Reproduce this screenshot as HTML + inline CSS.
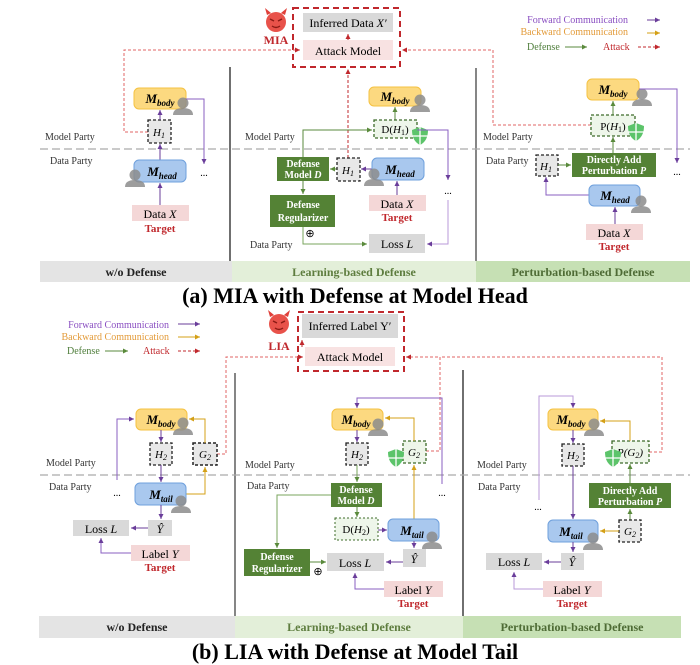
<!DOCTYPE html>
<html><head><meta charset="utf-8"><style>
html,body{margin:0;padding:0;background:#fff;}
svg{display:block;font-family:"Liberation Serif",serif;}
.b{font-weight:bold;font-style:italic;}
</style></head><body>
<svg width="700" height="665" viewBox="0 0 700 665" xmlns="http://www.w3.org/2000/svg">
<defs>
<marker id="mp" markerWidth="6" markerHeight="6" refX="5" refY="3" orient="auto"><path d="M0,0.5 L5,3 L0,5.5z" fill="#6a3d9a"/></marker>
<marker id="mo" markerWidth="6" markerHeight="6" refX="5" refY="3" orient="auto"><path d="M0,0.5 L5,3 L0,5.5z" fill="#d4a017"/></marker>
<marker id="mg" markerWidth="6" markerHeight="6" refX="5" refY="3" orient="auto"><path d="M0,0.5 L5,3 L0,5.5z" fill="#5a8a3c"/></marker>
<marker id="mr" markerWidth="6" markerHeight="6" refX="5" refY="3" orient="auto"><path d="M0,0.5 L5,3 L0,5.5z" fill="#c0282d"/></marker>
<g id="person"><circle cx="0" cy="-5" r="5.5" fill="#8c8c8c" opacity="0.85"/><path d="M-10,7 Q-10,0 0,0 Q10,0 10,7z" fill="#8c8c8c" opacity="0.85"/></g>
<g id="shield"><path d="M0,-9 L8,-6 Q8,5 0,9 Q-8,5 -8,-6z" fill="#5cc46a"/><path d="M0,-9 L0,9 M-8,0 L8,0" stroke="#fff" stroke-width="1.3"/></g>
<g id="devil"><path d="M-9,-7 L-11,-14 L-5,-9z M9,-7 L11,-14 L5,-9z" fill="#e0403a"/><circle r="10" fill="#e8524a"/><path d="M-6,-3 L-2,-1 M6,-3 L2,-1" stroke="#8b1a14" stroke-width="1.5"/><path d="M-4,4 Q0,7 4,4" stroke="#8b1a14" stroke-width="1.4" fill="none"/></g>
</defs>

<!-- ============ PART A ============ -->
<use href="#devil" x="276" y="22"/>
<text x="276" y="44" text-anchor="middle" font-size="12" font-weight="bold" fill="#c0282d">MIA</text>
<rect x="293" y="8" width="107" height="59" fill="none" stroke="#c0282d" stroke-width="2" stroke-dasharray="6,4"/>
<rect x="303" y="13" width="90" height="19" fill="#d9d9d9"/>
<text x="348" y="27" text-anchor="middle" font-size="12">Inferred Data <tspan font-style="italic">X′</tspan></text>
<rect x="303" y="40" width="90" height="20" fill="#f8e2e2"/>
<text x="348" y="55" text-anchor="middle" font-size="12">Attack Model</text>
<line x1="348" y1="40" x2="348" y2="34" stroke="#c0282d" marker-end="url(#mr)"/>

<g font-size="10">
<text x="628" y="23" text-anchor="end" fill="#8a4fc2">Forward Communication</text>
<line x1="647" y1="20" x2="660" y2="20" stroke="#6a3d9a" marker-end="url(#mp)"/>
<text x="628" y="35" text-anchor="end" fill="#e39b3a">Backward Communication</text>
<line x1="647" y1="33" x2="660" y2="33" stroke="#d4a017" marker-end="url(#mo)"/>
<text x="527" y="50" fill="#4e7d3a">Defense</text>
<line x1="565" y1="47" x2="587" y2="47" stroke="#5a8a3c" marker-end="url(#mg)"/>
<text x="603" y="50" fill="#c0282d">Attack</text>
<line x1="638" y1="47" x2="660" y2="47" stroke="#c0282d" stroke-dasharray="3,2" marker-end="url(#mr)"/>
</g>

<line x1="230" y1="67" x2="230" y2="261" stroke="#222" stroke-width="1.3"/>
<line x1="476" y1="68" x2="476" y2="261" stroke="#444" stroke-width="1.3"/>
<line x1="40" y1="149" x2="690" y2="149" stroke="#aaa" stroke-width="1.3" stroke-dasharray="8,4"/>

<g font-size="10" fill="#333">
<text x="45" y="140">Model Party</text><text x="50" y="164">Data Party</text>
<text x="245" y="140">Model Party</text><text x="250" y="248">Data Party</text>
<text x="483" y="140">Model Party</text><text x="486" y="164">Data Party</text>
</g>

<!-- A left -->
<polyline points="148,132 124,132 124,50 300,50" fill="none" stroke="#e06666" stroke-dasharray="3,2" marker-end="url(#mr)"/>
<rect x="134" y="88" width="52" height="21" rx="5" fill="#fcd980" stroke="#f5c242"/>
<text x="160" y="103" text-anchor="middle" font-size="13" class="b">M<tspan font-size="9" dy="3">body</tspan></text>
<use href="#person" x="183" y="108"/>
<rect x="148" y="120" width="23" height="23" fill="#e8e8e8" stroke="#222" stroke-dasharray="3,2" stroke-width="1.3"/>
<text x="159" y="136" text-anchor="middle" font-size="11" font-style="italic">H<tspan font-size="8" dy="2">1</tspan></text>
<line x1="160" y1="120" x2="160" y2="110" stroke="#6a3d9a" marker-end="url(#mp)"/>
<line x1="160" y1="160" x2="160" y2="144" stroke="#6a3d9a" marker-end="url(#mp)"/>
<polyline points="186,99 204,99 204,164" fill="none" stroke="#8a5fc2" marker-end="url(#mp)"/>
<text x="204" y="176" text-anchor="middle" font-size="10">...</text>
<rect x="134" y="160" width="52" height="22" rx="5" fill="#a9c8ee" stroke="#6fa0dc"/>
<text x="162" y="176" text-anchor="middle" font-size="13" class="b">M<tspan font-size="9" dy="3">head</tspan></text>
<use href="#person" x="135" y="180"/>
<line x1="160" y1="205" x2="160" y2="183" stroke="#6a3d9a" marker-end="url(#mp)"/>
<rect x="132" y="205" width="57" height="16" fill="#f4d7d7"/>
<text x="160" y="218" text-anchor="middle" font-size="12">Data <tspan font-style="italic">X</tspan></text>
<text x="160" y="232" text-anchor="middle" font-size="11" font-weight="bold" fill="#c0282d">Target</text>

<!-- A middle -->
<line x1="348" y1="158" x2="348" y2="69" stroke="#c0282d" stroke-dasharray="3,2" marker-end="url(#mr)"/>
<rect x="369" y="87" width="52" height="19" rx="5" fill="#fcd980" stroke="#f5c242"/>
<text x="395" y="101" text-anchor="middle" font-size="13" class="b">M<tspan font-size="9" dy="3">body</tspan></text>
<use href="#person" x="420" y="105"/>
<line x1="395" y1="120" x2="395" y2="107" stroke="#5a8a3c" marker-end="url(#mg)"/>
<rect x="374" y="120" width="43" height="18" fill="#eef6ea" stroke="#3d6b2a" stroke-dasharray="3,2" stroke-width="1.3"/>
<text x="395" y="133" text-anchor="middle" font-size="11">D(<tspan font-style="italic">H</tspan><tspan font-size="8" dy="2">1</tspan><tspan dy="-2">)</tspan></text>
<use href="#shield" x="420" y="136"/>
<polyline points="303,157 303,130 372,130" fill="none" stroke="#5a8a3c" marker-end="url(#mg)"/>
<polyline points="417,130 448,130 448,180" fill="none" stroke="#8a5fc2" marker-end="url(#mp)"/>
<text x="448" y="194" text-anchor="middle" font-size="10">...</text>
<polyline points="448,200 448,244 427,244" fill="none" stroke="#b99ad8" marker-end="url(#mp)"/>
<rect x="277" y="157" width="52" height="24" fill="#548235"/>
<text x="303" y="167" text-anchor="middle" font-size="10" font-weight="bold" fill="#fff">Defense</text>
<text x="303" y="178" text-anchor="middle" font-size="10" font-weight="bold" fill="#fff">Model <tspan font-style="italic">D</tspan></text>
<line x1="337" y1="169" x2="330" y2="169" stroke="#5a8a3c" marker-end="url(#mg)"/>
<rect x="337" y="158" width="23" height="23" fill="#e8e8e8" stroke="#222" stroke-dasharray="3,2" stroke-width="1.3"/>
<text x="348" y="174" text-anchor="middle" font-size="11" font-style="italic">H<tspan font-size="8" dy="2">1</tspan></text>
<line x1="372" y1="169" x2="361" y2="169" stroke="#6a3d9a" marker-end="url(#mp)"/>
<rect x="372" y="158" width="52" height="22" rx="5" fill="#a9c8ee" stroke="#6fa0dc"/>
<text x="400" y="174" text-anchor="middle" font-size="13" class="b">M<tspan font-size="9" dy="3">head</tspan></text>
<use href="#person" x="374" y="179"/>
<line x1="397" y1="195" x2="397" y2="181" stroke="#6a3d9a" marker-end="url(#mp)"/>
<rect x="369" y="195" width="57" height="16" fill="#f4d7d7"/>
<text x="397" y="208" text-anchor="middle" font-size="12">Data <tspan font-style="italic">X</tspan></text>
<text x="397" y="221" text-anchor="middle" font-size="11" font-weight="bold" fill="#c0282d">Target</text>
<line x1="303" y1="181" x2="303" y2="194" stroke="#5a8a3c" marker-end="url(#mg)"/>
<rect x="270" y="195" width="65" height="32" fill="#548235"/>
<text x="303" y="208" text-anchor="middle" font-size="10" font-weight="bold" fill="#fff">Defense</text>
<text x="303" y="221" text-anchor="middle" font-size="10" font-weight="bold" fill="#fff">Regularizer</text>
<text x="310" y="237" text-anchor="middle" font-size="11">⊕</text>
<polyline points="303,227 303,244 367,244" fill="none" stroke="#7aa65c" marker-end="url(#mg)"/>
<rect x="369" y="234" width="56" height="19" fill="#d9d9d9"/>
<text x="397" y="248" text-anchor="middle" font-size="12">Loss <tspan font-style="italic">L</tspan></text>

<!-- A right -->
<polyline points="591,125 493,125 493,50 402,50" fill="none" stroke="#e06666" stroke-dasharray="3,2" marker-end="url(#mr)"/>
<rect x="587" y="79" width="52" height="21" rx="5" fill="#fcd980" stroke="#f5c242"/>
<text x="613" y="94" text-anchor="middle" font-size="13" class="b">M<tspan font-size="9" dy="3">body</tspan></text>
<use href="#person" x="642" y="99"/>
<polyline points="639,89 677,89 677,163" fill="none" stroke="#8a5fc2" marker-end="url(#mp)"/>
<text x="677" y="175" text-anchor="middle" font-size="10">...</text>
<line x1="613" y1="115" x2="613" y2="101" stroke="#5a8a3c" marker-end="url(#mg)"/>
<rect x="591" y="115" width="44" height="21" fill="#eef6ea" stroke="#3d6b2a" stroke-dasharray="3,2" stroke-width="1.3"/>
<text x="613" y="130" text-anchor="middle" font-size="11">P(<tspan font-style="italic">H</tspan><tspan font-size="8" dy="2">1</tspan><tspan dy="-2">)</tspan></text>
<use href="#shield" x="636" y="132"/>
<line x1="613" y1="153" x2="613" y2="137" stroke="#5a8a3c" marker-end="url(#mg)"/>
<rect x="572" y="153" width="84" height="24" fill="#548235"/>
<text x="614" y="163" text-anchor="middle" font-size="10" font-weight="bold" fill="#fff">Directly Add</text>
<text x="614" y="174" text-anchor="middle" font-size="10" font-weight="bold" fill="#fff">Perturbation <tspan font-style="italic">P</tspan></text>
<rect x="536" y="155" width="22" height="21" fill="#e8e8e8" stroke="#222" stroke-dasharray="3,2" stroke-width="1.3"/>
<text x="546" y="170" text-anchor="middle" font-size="11" font-style="italic">H<tspan font-size="8" dy="2">1</tspan></text>
<line x1="558" y1="165" x2="571" y2="165" stroke="#5a8a3c" marker-end="url(#mg)"/>
<polyline points="589,195 546,195 546,177" fill="none" stroke="#8a5fc2" marker-end="url(#mp)"/>
<rect x="589" y="185" width="51" height="21" rx="5" fill="#a9c8ee" stroke="#6fa0dc"/>
<text x="615" y="200" text-anchor="middle" font-size="13" class="b">M<tspan font-size="9" dy="3">head</tspan></text>
<use href="#person" x="641" y="206"/>
<line x1="615" y1="224" x2="615" y2="207" stroke="#6a3d9a" marker-end="url(#mp)"/>
<rect x="586" y="224" width="57" height="16" fill="#f4d7d7"/>
<text x="614" y="237" text-anchor="middle" font-size="12">Data <tspan font-style="italic">X</tspan></text>
<text x="614" y="250" text-anchor="middle" font-size="11" font-weight="bold" fill="#c0282d">Target</text>

<rect x="40" y="261" width="192" height="21" fill="#e4e4e4"/>
<rect x="232" y="261" width="244" height="21" fill="#e3efd9"/>
<rect x="476" y="261" width="214" height="21" fill="#c6e0b4"/>
<g font-size="12" font-weight="bold">
<text x="136" y="276" text-anchor="middle" fill="#222">w/o Defense</text>
<text x="354" y="276" text-anchor="middle" fill="#5e7d3f">Learning-based Defense</text>
<text x="583" y="276" text-anchor="middle" fill="#4e6b35">Perturbation-based Defense</text>
</g>
<text x="355" y="303" text-anchor="middle" font-size="22" font-weight="bold">(a) MIA with Defense at Model Head</text>

<!-- ============ PART B ============ -->
<g font-size="10">
<text x="169" y="328" text-anchor="end" fill="#8a4fc2">Forward Communication</text>
<line x1="178" y1="324" x2="200" y2="324" stroke="#6a3d9a" marker-end="url(#mp)"/>
<text x="169" y="340" text-anchor="end" fill="#e39b3a">Backward Communication</text>
<line x1="178" y1="337" x2="200" y2="337" stroke="#d4a017" marker-end="url(#mo)"/>
<text x="67" y="354" fill="#4e7d3a">Defense</text>
<line x1="105" y1="351" x2="128" y2="351" stroke="#5a8a3c" marker-end="url(#mg)"/>
<text x="143" y="354" fill="#c0282d">Attack</text>
<line x1="178" y1="351" x2="200" y2="351" stroke="#c0282d" stroke-dasharray="3,2" marker-end="url(#mr)"/>
</g>
<use href="#devil" x="279" y="324"/>
<text x="279" y="350" text-anchor="middle" font-size="12" font-weight="bold" fill="#c0282d">LIA</text>
<rect x="298" y="312" width="106" height="59" fill="none" stroke="#c0282d" stroke-width="2" stroke-dasharray="6,4"/>
<rect x="302" y="314" width="96" height="24" fill="#d9d9d9"/>
<text x="350" y="330" text-anchor="middle" font-size="12">Inferred Label Y′</text>
<rect x="305" y="347" width="90" height="19" fill="#f8e2e2"/>
<text x="350" y="361" text-anchor="middle" font-size="12">Attack Model</text>
<line x1="302" y1="347" x2="302" y2="340" stroke="#c0282d" marker-end="url(#mr)"/>

<line x1="235" y1="373" x2="235" y2="616" stroke="#444" stroke-width="1.3"/>
<line x1="463" y1="370" x2="463" y2="616" stroke="#222" stroke-width="1.3"/>
<line x1="40" y1="475" x2="690" y2="475" stroke="#aaa" stroke-width="1.3" stroke-dasharray="8,4"/>
<g font-size="10" fill="#333">
<text x="46" y="466">Model Party</text><text x="49" y="490">Data Party</text>
<text x="245" y="468">Model Party</text><text x="247" y="489">Data Party</text>
<text x="477" y="468">Model Party</text><text x="478" y="490">Data Party</text>
</g>

<!-- B left -->
<polyline points="217,454 226,454 226,357 303,357" fill="none" stroke="#e06666" stroke-dasharray="3,2" marker-end="url(#mr)"/>
<polyline points="117,480 117,419 134,419" fill="none" stroke="#8a5fc2" marker-end="url(#mp)"/>
<text x="117" y="496" text-anchor="middle" font-size="10">...</text>
<rect x="136" y="409" width="51" height="21" rx="5" fill="#fcd980" stroke="#f5c242"/>
<text x="161" y="424" text-anchor="middle" font-size="13" class="b">M<tspan font-size="9" dy="3">body</tspan></text>
<use href="#person" x="183" y="428"/>
<line x1="161" y1="430" x2="161" y2="442" stroke="#6a3d9a" marker-end="url(#mp)"/>
<rect x="150" y="443" width="22" height="22" fill="#e8e8e8" stroke="#222" stroke-dasharray="3,2" stroke-width="1.3"/>
<text x="161" y="458" text-anchor="middle" font-size="11" font-style="italic">H<tspan font-size="8" dy="2">2</tspan></text>
<rect x="193" y="443" width="24" height="22" fill="#e8e8e8" stroke="#222" stroke-dasharray="3,2" stroke-width="1.5"/>
<text x="205" y="458" text-anchor="middle" font-size="11" font-style="italic">G<tspan font-size="8" dy="2">2</tspan></text>
<polyline points="205,443 205,419 189,419" fill="none" stroke="#d4a017" marker-end="url(#mo)"/>
<polyline points="186,494 205,494 205,467" fill="none" stroke="#d4a017" marker-end="url(#mo)"/>
<line x1="161" y1="465" x2="161" y2="482" stroke="#6a3d9a" marker-end="url(#mp)"/>
<rect x="135" y="483" width="51" height="22" rx="5" fill="#a9c8ee" stroke="#6fa0dc"/>
<text x="161" y="499" text-anchor="middle" font-size="13" class="b">M<tspan font-size="9" dy="3">tail</tspan></text>
<use href="#person" x="181" y="506"/>
<line x1="161" y1="505" x2="161" y2="519" stroke="#6a3d9a" marker-end="url(#mp)"/>
<rect x="148" y="520" width="24" height="16" fill="#d9d9d9"/>
<text x="160" y="533" text-anchor="middle" font-size="12" font-style="italic">Ŷ</text>
<line x1="148" y1="528" x2="131" y2="528" stroke="#6a3d9a" marker-end="url(#mp)"/>
<rect x="73" y="520" width="56" height="16" fill="#d9d9d9"/>
<text x="101" y="533" text-anchor="middle" font-size="12">Loss <tspan font-style="italic">L</tspan></text>
<polyline points="131,553 101,553 101,538" fill="none" stroke="#8a5fc2" marker-end="url(#mp)"/>
<rect x="131" y="545" width="59" height="16" fill="#f4d7d7"/>
<text x="160" y="558" text-anchor="middle" font-size="12">Label <tspan font-style="italic">Y</tspan></text>
<text x="160" y="571" text-anchor="middle" font-size="11" font-weight="bold" fill="#c0282d">Target</text>

<!-- B middle -->
<polyline points="426,451 440,451 440,357 406,357" fill="none" stroke="#e06666" stroke-dasharray="3,2" marker-end="url(#mr)"/>
<polyline points="442,484 442,398 357,398 357,408" fill="none" stroke="#8a5fc2" marker-end="url(#mp)"/>
<text x="442" y="496" text-anchor="middle" font-size="10">...</text>
<rect x="332" y="409" width="51" height="21" rx="5" fill="#fcd980" stroke="#f5c242"/>
<text x="356" y="424" text-anchor="middle" font-size="13" class="b">M<tspan font-size="9" dy="3">body</tspan></text>
<use href="#person" x="378" y="429"/>
<line x1="357" y1="430" x2="357" y2="442" stroke="#6a3d9a" marker-end="url(#mp)"/>
<rect x="346" y="443" width="22" height="22" fill="#e8e8e8" stroke="#222" stroke-dasharray="3,2" stroke-width="1.3"/>
<text x="357" y="458" text-anchor="middle" font-size="11" font-style="italic">H<tspan font-size="8" dy="2">2</tspan></text>
<rect x="403" y="441" width="23" height="22" fill="#eef6ea" stroke="#3d6b2a" stroke-dasharray="3,2" stroke-width="1.3"/>
<text x="414" y="456" text-anchor="middle" font-size="11" font-style="italic">G<tspan font-size="8" dy="2">2</tspan></text>
<use href="#shield" x="396" y="458"/>
<polyline points="414,441 414,418 385,418" fill="none" stroke="#d4a017" marker-end="url(#mo)"/>
<line x1="414" y1="519" x2="414" y2="465" stroke="#d4a017" marker-end="url(#mo)"/>
<line x1="357" y1="465" x2="357" y2="482" stroke="#7aa65c" marker-end="url(#mg)"/>
<rect x="331" y="483" width="51" height="24" fill="#548235"/>
<text x="356" y="493" text-anchor="middle" font-size="10" font-weight="bold" fill="#fff">Defense</text>
<text x="356" y="504" text-anchor="middle" font-size="10" font-weight="bold" fill="#fff">Model <tspan font-style="italic">D</tspan></text>
<polyline points="331,495 277,495 277,548" fill="none" stroke="#7aa65c" marker-end="url(#mg)"/>
<line x1="357" y1="507" x2="357" y2="517" stroke="#5a8a3c" marker-end="url(#mg)"/>
<rect x="335" y="518" width="43" height="22" fill="#eef6ea" stroke="#3d6b2a" stroke-dasharray="2,2" stroke-width="1"/>
<text x="356" y="533" text-anchor="middle" font-size="11">D(<tspan font-style="italic">H</tspan><tspan font-size="8" dy="2">2</tspan><tspan dy="-2">)</tspan></text>
<line x1="378" y1="530" x2="387" y2="530" stroke="#6a3d9a" marker-end="url(#mp)"/>
<rect x="388" y="519" width="51" height="22" rx="5" fill="#a9c8ee" stroke="#6fa0dc"/>
<text x="412" y="535" text-anchor="middle" font-size="13" class="b">M<tspan font-size="9" dy="3">tail</tspan></text>
<use href="#person" x="432" y="542"/>
<line x1="414" y1="541" x2="414" y2="548" stroke="#6a3d9a" marker-end="url(#mp)"/>
<rect x="403" y="549" width="23" height="18" fill="#d9d9d9"/>
<text x="414" y="563" text-anchor="middle" font-size="12" font-style="italic">Ŷ</text>
<line x1="403" y1="562" x2="386" y2="562" stroke="#6a3d9a" marker-end="url(#mp)"/>
<rect x="327" y="553" width="57" height="18" fill="#d9d9d9"/>
<text x="355" y="567" text-anchor="middle" font-size="12">Loss <tspan font-style="italic">L</tspan></text>
<rect x="244" y="549" width="66" height="27" fill="#548235"/>
<text x="277" y="560" text-anchor="middle" font-size="10" font-weight="bold" fill="#fff">Defense</text>
<text x="277" y="572" text-anchor="middle" font-size="10" font-weight="bold" fill="#fff">Regularizer</text>
<line x1="310" y1="562" x2="326" y2="562" stroke="#5a8a3c" marker-end="url(#mg)"/>
<text x="318" y="575" text-anchor="middle" font-size="11">⊕</text>
<polyline points="384,589 355,589 355,573" fill="none" stroke="#8a5fc2" marker-end="url(#mp)"/>
<rect x="384" y="581" width="59" height="16" fill="#f4d7d7"/>
<text x="413" y="594" text-anchor="middle" font-size="12">Label <tspan font-style="italic">Y</tspan></text>
<text x="413" y="607" text-anchor="middle" font-size="11" font-weight="bold" fill="#c0282d">Target</text>

<!-- B right -->
<polyline points="649,452 662,452 662,357 440,357" fill="none" stroke="#e06666" stroke-dasharray="3,2"/>
<polyline points="539,500 539,396 573,396 573,408" fill="none" stroke="#b99ad8" marker-end="url(#mp)"/>
<text x="538" y="510" text-anchor="middle" font-size="10">...</text>
<rect x="548" y="409" width="50" height="21" rx="5" fill="#fcd980" stroke="#f5c242"/>
<text x="571" y="424" text-anchor="middle" font-size="13" class="b">M<tspan font-size="9" dy="3">body</tspan></text>
<use href="#person" x="594" y="429"/>
<line x1="573" y1="430" x2="573" y2="443" stroke="#6a3d9a" marker-end="url(#mp)"/>
<rect x="562" y="444" width="22" height="22" fill="#e8e8e8" stroke="#222" stroke-dasharray="3,2" stroke-width="1.3"/>
<text x="573" y="459" text-anchor="middle" font-size="11" font-style="italic">H<tspan font-size="8" dy="2">2</tspan></text>
<line x1="573" y1="466" x2="573" y2="519" stroke="#6a3d9a" marker-end="url(#mp)"/>
<rect x="612" y="441" width="37" height="22" fill="#eef6ea" stroke="#3d6b2a" stroke-dasharray="3,2" stroke-width="1.3"/>
<text x="630" y="456" text-anchor="middle" font-size="11" font-style="italic">P(G<tspan font-size="8" dy="2">2</tspan><tspan dy="-2">)</tspan></text>
<use href="#shield" x="613" y="458"/>
<polyline points="630,441 630,421 600,421" fill="none" stroke="#d4a017" marker-end="url(#mo)"/>
<line x1="630" y1="483" x2="630" y2="464" stroke="#5a8a3c" marker-end="url(#mg)"/>
<rect x="589" y="483" width="82" height="25" fill="#548235"/>
<text x="630" y="494" text-anchor="middle" font-size="10" font-weight="bold" fill="#fff">Directly Add</text>
<text x="630" y="505" text-anchor="middle" font-size="10" font-weight="bold" fill="#fff">Perturbation <tspan font-style="italic">P</tspan></text>
<line x1="630" y1="520" x2="630" y2="509" stroke="#5a8a3c" marker-end="url(#mg)"/>
<rect x="619" y="520" width="22" height="22" fill="#e8e8e8" stroke="#222" stroke-dasharray="3,2" stroke-width="1.3"/>
<text x="630" y="535" text-anchor="middle" font-size="11" font-style="italic">G<tspan font-size="8" dy="2">2</tspan></text>
<line x1="619" y1="531" x2="600" y2="531" stroke="#d4a017" marker-end="url(#mo)"/>
<rect x="548" y="520" width="50" height="22" rx="5" fill="#a9c8ee" stroke="#6fa0dc"/>
<text x="571" y="536" text-anchor="middle" font-size="13" class="b">M<tspan font-size="9" dy="3">tail</tspan></text>
<use href="#person" x="593" y="543"/>
<line x1="573" y1="542" x2="573" y2="552" stroke="#6a3d9a" marker-end="url(#mp)"/>
<rect x="561" y="553" width="23" height="17" fill="#d9d9d9"/>
<text x="572" y="566" text-anchor="middle" font-size="12" font-style="italic">Ŷ</text>
<line x1="561" y1="562" x2="544" y2="562" stroke="#6a3d9a" marker-end="url(#mp)"/>
<rect x="486" y="553" width="56" height="17" fill="#d9d9d9"/>
<text x="514" y="566" text-anchor="middle" font-size="12">Loss <tspan font-style="italic">L</tspan></text>
<polyline points="543,589 514,589 514,572" fill="none" stroke="#b99ad8" marker-end="url(#mp)"/>
<rect x="543" y="581" width="59" height="16" fill="#f4d7d7"/>
<text x="572" y="594" text-anchor="middle" font-size="12">Label <tspan font-style="italic">Y</tspan></text>
<text x="572" y="607" text-anchor="middle" font-size="11" font-weight="bold" fill="#c0282d">Target</text>

<rect x="39" y="616" width="196" height="22" fill="#e4e4e4"/>
<rect x="235" y="616" width="228" height="22" fill="#e3efd9"/>
<rect x="463" y="616" width="218" height="22" fill="#c6e0b4"/>
<g font-size="12" font-weight="bold">
<text x="137" y="631" text-anchor="middle" fill="#222">w/o Defense</text>
<text x="349" y="631" text-anchor="middle" fill="#5e7d3f">Learning-based Defense</text>
<text x="572" y="631" text-anchor="middle" fill="#4e6b35">Perturbation-based Defense</text>
</g>
<text x="355" y="659" text-anchor="middle" font-size="22" font-weight="bold">(b) LIA with Defense at Model Tail</text>
</svg>
</body></html>
